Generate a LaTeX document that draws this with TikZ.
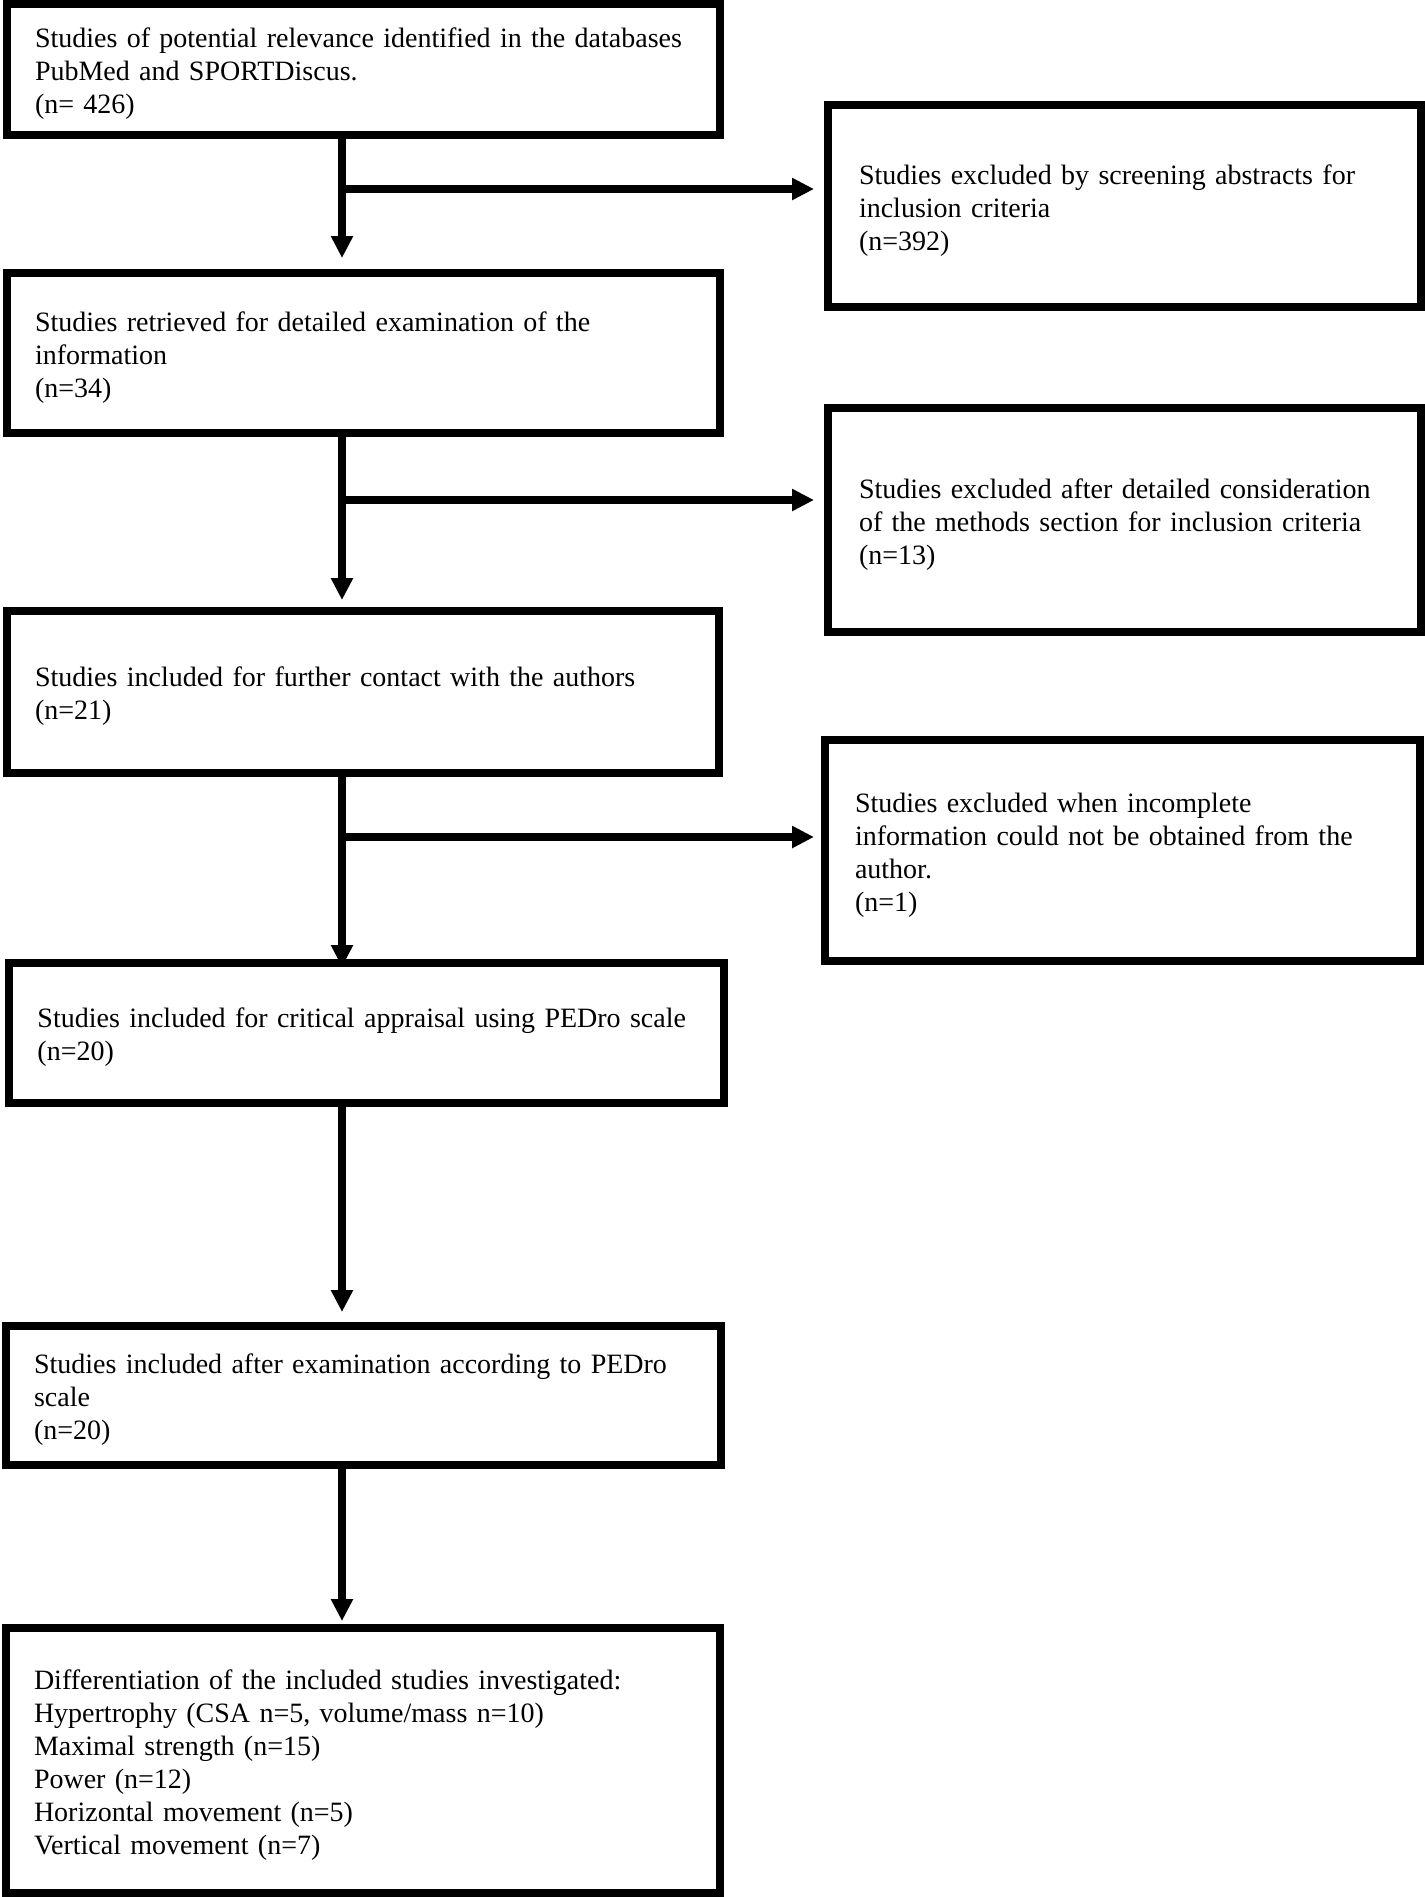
\documentclass[tikz,border=0pt]{standalone}
\usepackage{fontspec}
\setmainfont{Liberation Serif}
\usetikzlibrary{arrows.meta}
\begin{document}
\begin{tikzpicture}[x=0.5pt,y=-0.5pt,
  box/.style={draw, line width=3.8pt, rectangle, outer sep=0pt, inner ysep=3pt,
    align=left, anchor=center, font=\fontsize{14}{16.5}\selectfont,
    execute at begin node={\rule{0pt}{14pt}}},
  arr/.style={line width=3.8pt, -{Triangle[width=10.5pt,length=11pt]}}]
\useasboundingbox (0,0) rectangle (1425,1897);

\node[box, minimum width=356.5pt, minimum height=65.5pt, inner xsep=14pt, text width=328.5pt] (b1) at (363.5,69.5)
 {\mbox{Studies of potential relevance identified in the databases}\\PubMed and SPORTDiscus.\\(n= 426)};
\node[box, minimum width=296.5pt, minimum height=101pt, inner xsep=15.5pt, text width=265.5pt] (r1) at (1124.5,206)
 {Studies excluded by screening abstracts for\\inclusion criteria\\(n=392)};
\node[box, minimum width=356.5pt, minimum height=80pt, inner xsep=14pt, text width=328.5pt] (b2) at (363.5,353)
 {Studies retrieved for detailed examination of the\\information\\(n=34)};
\node[box, minimum width=296.5pt, minimum height=112pt, inner xsep=15.5pt, text width=265.5pt] (r2) at (1124.5,520)
 {\mbox{Studies excluded after detailed consideration}\\\mbox{of the methods section for inclusion criteria}\\(n=13)};
\node[box, minimum width=356pt, minimum height=81pt, inner xsep=14pt, text width=328pt] (b3) at (363,692)
 {Studies included for further contact with the authors\\(n=21)};
\node[box, minimum width=297.5pt, minimum height=110.5pt, inner xsep=15pt, text width=267.5pt] (r3) at (1122.5,850.5)
 {Studies excluded when incomplete\\\mbox{information could not be obtained from the}\\author.\\(n=1)};
\node[box, minimum width=357.5pt, minimum height=70pt, inner xsep=14.25pt, text width=329pt] (b4) at (366.5,1033)
 {\mbox{Studies included for critical appraisal using PEDro scale}\\(n=20)};
\node[box, minimum width=357.5pt, minimum height=69.5pt, inner xsep=14pt, text width=329.5pt] (b5) at (363.5,1395.5)
 {\mbox{Studies included after examination according to PEDro}\\scale\\(n=20)};
\node[box, minimum width=357pt, minimum height=132.5pt, inner xsep=14pt, text width=329pt] (b6) at (363,1760.5)
 {Differentiation of the included studies investigated:\\Hypertrophy (CSA n=5, volume/mass n=10)\\Maximal strength (n=15)\\Power (n=12)\\Horizontal movement (n=5)\\Vertical movement (n=7)};

\coordinate (vx) at (342,0);
\coordinate (j1) at (342,189);
\coordinate (j2) at (342,500);
\coordinate (j3) at (342,837);

\draw[arr, shorten >=7.5pt] (b1.south -| vx) -- (b2.north -| vx);
\draw[arr, shorten >=5.5pt] (b2.south -| vx) -- (b3.north -| vx);
\draw[arr, shorten >=-2pt] (b3.south -| vx) -- (b4.north -| vx);
\draw[arr, shorten >=7pt] (b4.south -| vx) -- (b5.north -| vx);
\draw[arr, shorten >=3.5pt] (b5.south -| vx) -- (b6.north -| vx);

\draw[arr, shorten >=7pt] (j1) -- (j1 -| r1.west);
\draw[arr, shorten >=7pt] (j2) -- (j2 -| r2.west);
\draw[arr, shorten >=5.5pt] (j3) -- (j3 -| r3.west);
\end{tikzpicture}
\end{document}
